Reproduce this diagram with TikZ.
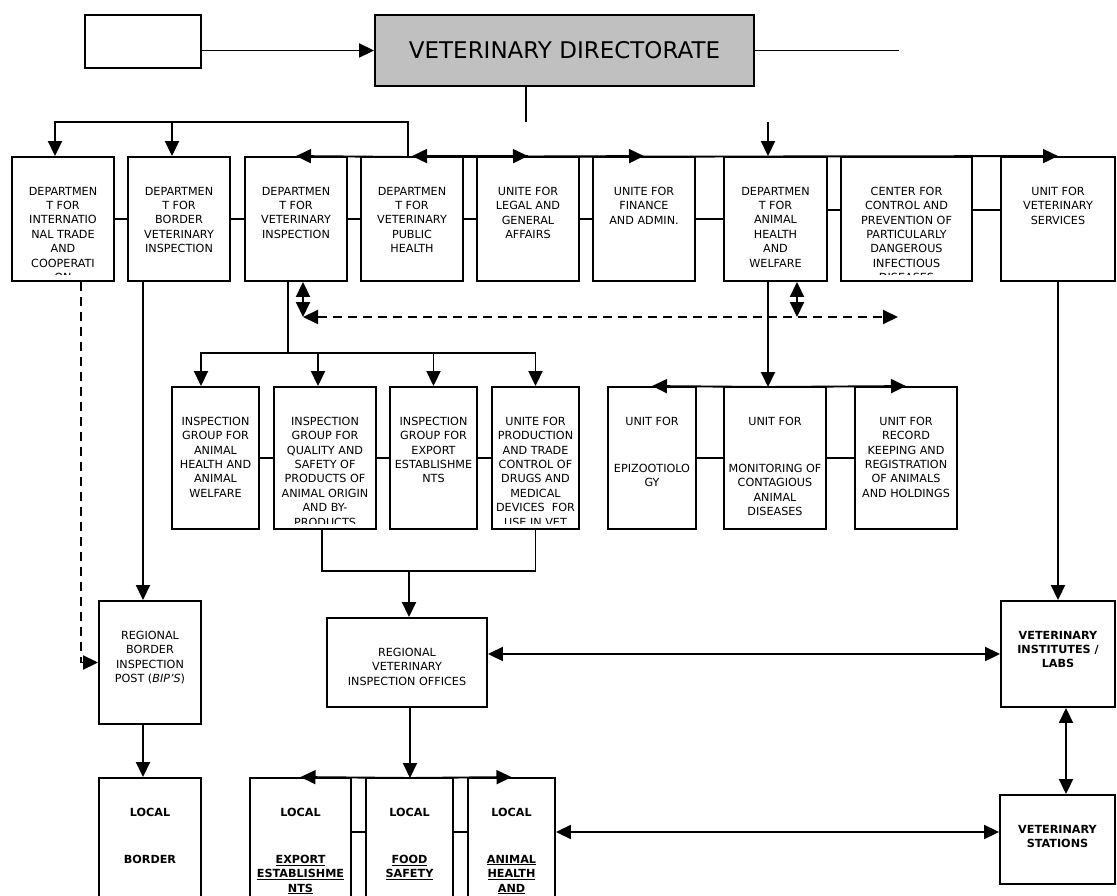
\documentclass[tikz,border=0pt]{standalone}
\usepackage{fontspec}
\setmainfont{DejaVu Sans}
\usetikzlibrary{arrows.meta}
\definecolor{dirgray}{RGB}{192,192,192}
\newcommand{\unitfont}{\fontsize{11.2}{14.4}\selectfont}
\tikzset{
    conn/.style={line width=1.9pt},
    arr/.style={conn,-{Triangle[length=15pt,width=14pt]}},
    dblarr/.style={conn,{Triangle[length=15pt,width=14pt]}-{Triangle[length=15pt,width=14pt]}},
    dashconn/.style={dash pattern=on 9pt off 6pt},
    dims/.style 2 args={minimum width=#1pt,minimum height=#2pt},
    unit/.style={draw,line width=1.9pt,rectangle,inner sep=0pt,
        path picture={
            \clip ([yshift=6pt]path picture bounding box.south west) rectangle (path picture bounding box.north east);
            \node[draw=none,fill=none,inner sep=0pt,minimum size=0pt,anchor=north,align=center,font=\unitfont]
                at ([yshift=-29pt]path picture bounding box.north) {#1};
        }},
}

\begin{document}
\begin{tikzpicture}[x=1pt,y=-1pt]
    \useasboundingbox (0,0) rectangle (1117,896);

    % top
    \node[draw,line width=1.9pt,dims={116}{53}] (blank) at (143,41.5) {};
    \node[draw,line width=1.9pt,fill=dirgray,dims={379}{71},font=\fontsize{23}{27}\selectfont] (dir) at (564.5,50.5) {VETERINARY DIRECTORATE};

    % departments
    \node[unit={DEPARTMEN\\T FOR\\INTERNATIO\\NAL TRADE\\AND\\COOPERATI\\ON},dims={102}{124}] (intl) at (63,219) {};
    \node[unit={DEPARTMEN\\T FOR\\BORDER\\VETERINARY\\INSPECTION},dims={102}{124}] (bord) at (179,219) {};
    \node[unit={DEPARTMEN\\T FOR\\VETERINARY\\INSPECTION},dims={102}{124}] (vinsp) at (296,219) {};
    \node[unit={DEPARTMEN\\T FOR\\VETERINARY\\PUBLIC\\HEALTH},dims={102}{124}] (vph) at (412,219) {};
    \node[unit={UNITE FOR\\LEGAL AND\\GENERAL\\AFFAIRS},dims={102}{124}] (legal) at (528,219) {};
    \node[unit={UNITE FOR\\FINANCE\\AND ADMIN.},dims={102}{124}] (finance) at (644,219) {};
    \node[unit={DEPARTMEN\\T FOR\\ANIMAL\\HEALTH\\AND\\WELFARE},dims={103}{124}] (ahw) at (775.5,219) {};
    \node[unit={CENTER FOR\\CONTROL AND\\PREVENTION OF\\PARTICULARLY\\DANGEROUS\\INFECTIOUS\\DISEASES},dims={131}{124}] (ctrl) at (906.5,219) {};
    \node[unit={UNIT FOR\\VETERINARY\\SERVICES},dims={114}{124}] (vserv) at (1058,219) {};

    % inspection groups and units
    \node[unit={INSPECTION\\GROUP FOR\\ANIMAL\\HEALTH AND\\ANIMAL\\WELFARE},dims={87}{142}] (grpAH) at (215.5,458) {};
    \node[unit={INSPECTION\\GROUP FOR\\QUALITY AND\\SAFETY OF\\PRODUCTS OF\\ANIMAL ORIGIN\\AND BY-\\PRODUCTS},dims={102}{142}] (grpQS) at (325,458) {};
    \node[unit={INSPECTION\\GROUP FOR\\EXPORT\\ESTABLISHME\\NTS},dims={87}{142}] (grpEx) at (433.5,458) {};
    \node[unit={UNITE FOR\\PRODUCTION\\AND TRADE\\CONTROL OF\\DRUGS AND\\MEDICAL\\DEVICES~ FOR\\USE IN VET},dims={87}{142}] (drugs) at (535.5,458) {};
    \node[unit={UNIT FOR\\[32.6pt]EPIZOOTIOLO\\GY},dims={88}{142}] (epiz) at (652,458) {};
    \node[unit={UNIT FOR\\[32.6pt]MONITORING OF\\CONTAGIOUS\\ANIMAL\\DISEASES},dims={102}{142}] (monit) at (775,458) {};
    \node[unit={UNIT FOR\\RECORD\\KEEPING AND\\REGISTRATION\\OF ANIMALS\\AND HOLDINGS},dims={102}{142}] (records) at (906,458) {};

    % regional level
    \node[unit={REGIONAL\\BORDER\\INSPECTION\\POST (\textit{BIP'S})},dims={102}{123}] (bip) at (150,662.5) {};
    \node[unit={REGIONAL\\VETERINARY\\INSPECTION OFFICES},dims={160}{89}] (rvio) at (407,662.5) {};
    \node[unit={\bfseries VETERINARY\\\bfseries INSTITUTES /\\\bfseries LABS},dims={114}{106}] (labs) at (1058,654) {};

    % local level
    \node[unit={\bfseries LOCAL\\[32.6pt]\bfseries BORDER},dims={102}{142}] (lBorder) at (150,849) {};
    \node[unit={\bfseries LOCAL\\[32.6pt]\bfseries\underline{EXPORT}\\\bfseries\underline{ESTABLISHME}\\\bfseries\underline{NTS}},dims={101}{142}] (lExport) at (300.5,849) {};
    \node[unit={\bfseries LOCAL\\[32.6pt]\bfseries\underline{FOOD}\\\bfseries\underline{SAFETY}},dims={87}{142}] (lFood) at (409.5,849) {};
    \node[unit={\bfseries LOCAL\\[32.6pt]\bfseries\underline{ANIMAL}\\\bfseries\underline{HEALTH}\\\bfseries\underline{AND}},dims={87}{142}] (lAnimal) at (511.5,849) {};
    \node[unit={\bfseries VETERINARY\\\bfseries STATIONS},dims={115}{89}] (stations) at (1057.5,839.5) {};

    % free ends
    \coordinate (dirR) at (899,50.5);
    \coordinate (dirD) at (526,122);
    \coordinate (hub) at (408,157);
    \coordinate (topbar) at (408,122);
    \coordinate (ahwin) at (768,122);
    \coordinate (dashL) at (303,317);
    \coordinate (dashR) at (898,317);
    \coordinate (ahwd) at (797,317);
    \coordinate (insbar) at (288,353);
    \coordinate (monhub) at (768,387);
    \coordinate (rvhub) at (409,571);
    \coordinate (lochub) at (410,778);

    % directorate
    \draw[arr] (blank.east |- dir.west) -- (dir.west);
    \draw[conn] (dir.east) -- (dirR);
    \draw[conn] (dirD |- dir.south) -- (dirD);

    % top bar of departments
    \draw[arr] (hub) -- (topbar) -| ([xshift=-8pt]intl.north);
    \draw[arr] ([xshift=-7pt]bord.north |- topbar) -- ([xshift=-7pt]bord.north);
    \draw[arr] (hub) -- (vinsp.north);
    \draw[arr] (legal.north) -- (vph.north);
    \draw[arr] (hub) -- (legal.north);
    \draw[arr] (hub) -- (finance.north);
    \draw[arr] (hub) -- (vserv.north);
    \draw[arr] (ahwin) -- (ahwin |- ahw.north);

    \foreach \a/\b in {intl/bord,bord/vinsp,vinsp/vph,vph/legal,legal/finance,finance/ahw}
        \draw[conn] (\a) -- (\b);
    \draw[conn] ([yshift=9pt]ahw.east) -- ([yshift=9pt]ctrl.west);
    \draw[conn] ([yshift=9pt]ctrl.east) -- ([yshift=9pt]vserv.west);

    % cooperation
    \draw[dblarr] (dashL |- vinsp.south) -- (dashL);
    \draw[dblarr,dashconn] (dashL) -- (dashR);
    \draw[dblarr] (ahwd |- ahw.south) -- (ahwd);

    % inspection groups
    \draw[conn] ([xshift=-8pt]vinsp.south) -- (insbar);
    \draw[arr] (insbar) -| ([xshift=-14.5pt]grpAH.north);
    \draw[arr] (insbar) -| (drugs.north);
    \draw[arr] ([xshift=-7pt]grpQS.north |- insbar) -- ([xshift=-7pt]grpQS.north);
    \draw[arr] (grpEx.north |- insbar) -- (grpEx.north);
    \foreach \a/\b in {grpAH/grpQS,grpQS/grpEx,grpEx/drugs}
        \draw[conn] (\a) -- (\b);

    % animal health units
    \draw[arr] (monhub |- ahw.south) -- (monhub);
    \draw[arr] (monhub) -- (epiz.north);
    \draw[arr] (monhub) -- (records.north);
    \foreach \a/\b in {epiz/monit,monit/records}
        \draw[conn] (\a) -- (\b);

    % regional
    \draw[conn] ([xshift=-3pt]grpQS.south) |- (rvhub) -| (drugs.south);
    \draw[arr] (rvhub) -- (rvhub |- rvio.north);
    \draw[arr] ([xshift=-36pt]bord.south) -- ([xshift=-36pt]bord.south |- bip.north);
    \draw[arr,dashconn] ([xshift=18pt]intl.south) |- (bip.west);
    \draw[arr] (vserv.south) -- (labs.north);
    \draw[dblarr] (rvio.east |- labs.west) -- (labs.west);

    % local
    \draw[arr] ([xshift=-7pt]bip.south) -- ([xshift=-7pt]bip.south |- lBorder.north);
    \draw[arr] (rvio.south -| lochub) -- (lochub);
    \draw[arr] (lochub) -- (lExport.north);
    \draw[arr] (lochub) -- (lAnimal.north);
    \foreach \a/\b in {lExport/lFood,lFood/lAnimal}
        \draw[conn] ([yshift=17pt]\a.east) -- ([yshift=17pt]\b.west);
    \draw[dblarr] ([yshift=17pt]lAnimal.east) -- ([yshift=17pt]lAnimal.east -| stations.west);
    \draw[dblarr] ([xshift=8pt]labs.south) -- ([xshift=8pt]labs.south |- stations.north);
\end{tikzpicture}
\end{document}
